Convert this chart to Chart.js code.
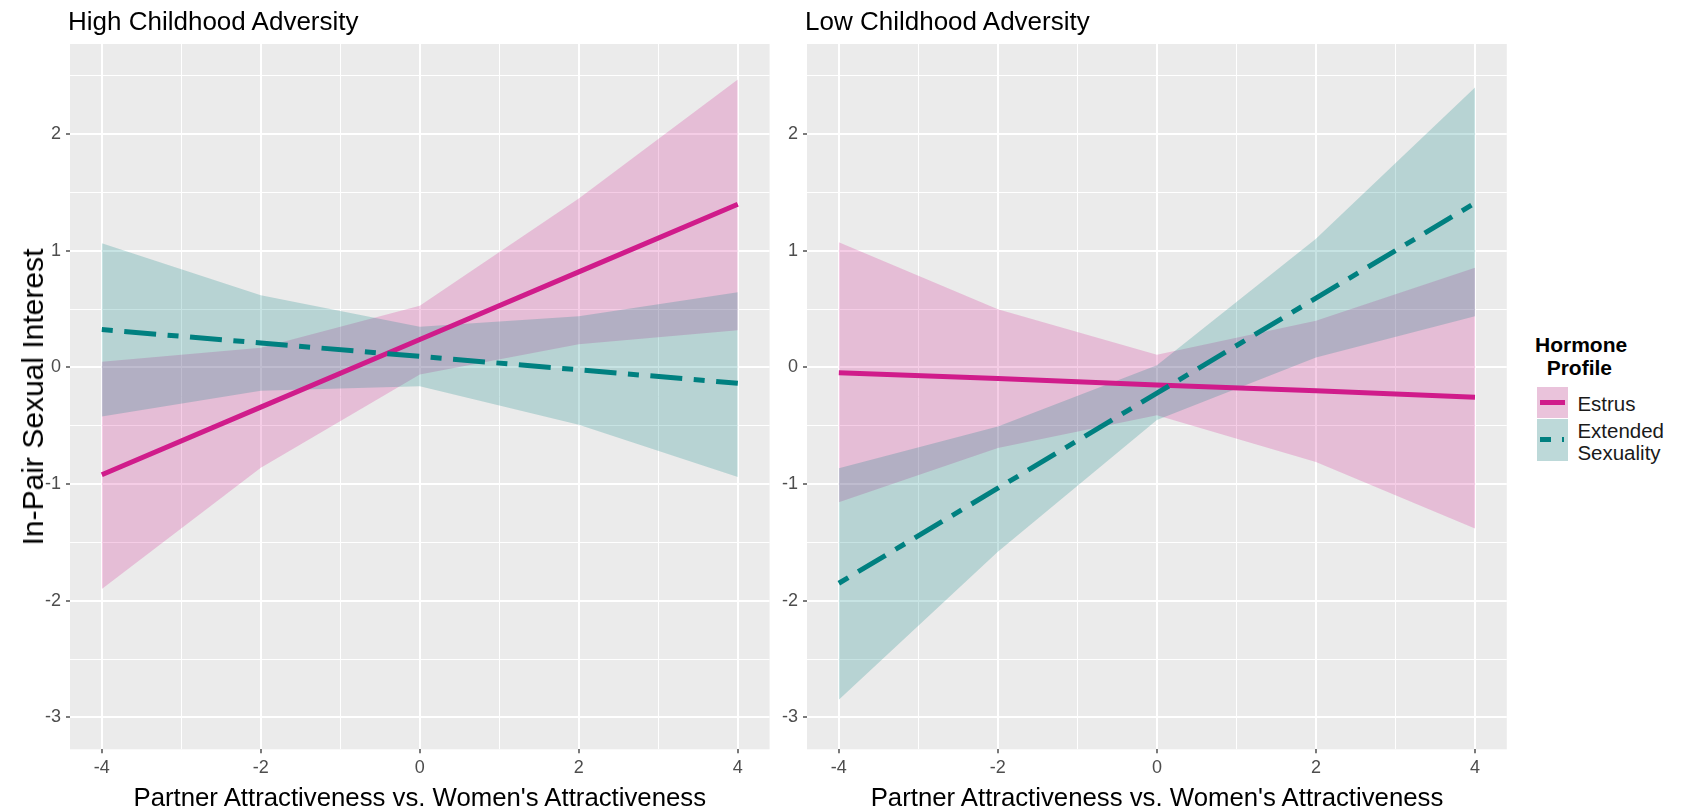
<!DOCTYPE html>
<html>
<head>
<meta charset="utf-8">
<title>In-Pair Sexual Interest by Hormone Profile</title>
<script src="https://cdn.jsdelivr.net/npm/chart.js@4.4.1/dist/chart.umd.min.js"></script>
<style>
  html, body { margin: 0; padding: 0; background: #ffffff; overflow: hidden; width: 1681px; height: 809px; }
  body { position: relative; font-family: "Liberation Sans", Arial, sans-serif; color: #000; }
  canvas { position: absolute; top: 0; }
  .txt { position: absolute; white-space: nowrap; }
  .panel-title { font-size: 26px; line-height: 26px; }
  .x-title { font-size: 25.75px; line-height: 25.75px; width: 800px; text-align: center; }
  .y-title { font-size: 30px; line-height: 30px; transform: translate(-50%, -50%) rotate(-90deg); }
  .legend-title { font-size: 21px; line-height: 21px; font-weight: bold; }
  .legend-label { font-size: 20.5px; line-height: 20.5px; color: #1a1a1a; }
  .key { position: absolute; }
  .key-mark { position: absolute; }
</style>
</head>
<body>
<canvas id="highPanel" width="772" height="809" style="left:0px"></canvas>
<canvas id="lowPanel" width="750" height="809" style="left:770px"></canvas>

<div class="txt panel-title" style="left:68px; top:8px;">High Childhood Adversity</div>
<div class="txt panel-title" style="left:805px; top:8px;">Low Childhood Adversity</div>

<div class="txt x-title" style="left:19.8px; top:785.2px;">Partner Attractiveness vs. Women's Attractiveness</div>
<div class="txt x-title" style="left:757px; top:785.2px;">Partner Attractiveness vs. Women's Attractiveness</div>

<div class="txt y-title" style="left:33px; top:396.6px;">In-Pair Sexual Interest</div>

<!-- legend -->
<div class="txt legend-title" style="left:1535px; top:333.9px;">Hormone</div>
<div class="txt legend-title" style="left:1546.7px; top:357.2px;">Profile</div>

<div class="key" style="left:1536.7px; top:386.7px; width:31.6px; height:31.6px; background:#EAC3DB;"></div>
<div class="key-mark" style="left:1540px; top:399.5px; width:25px; height:5px; background:#D01C8B;"></div>

<div class="key" style="left:1536.7px; top:419.3px; width:31.6px; height:41.4px; background:#BDD9D9;"></div>
<div class="key-mark" style="left:1540px; top:437px; width:11px; height:5px; background:#008080;"></div>
<div class="key-mark" style="left:1561.7px; top:437px; width:2.5px; height:5px; background:#008080;"></div>

<div class="txt legend-label" style="left:1577.4px; top:394.3px;">Estrus</div>
<div class="txt legend-label" style="left:1577.4px; top:420.6px;">Extended</div>
<div class="txt legend-label" style="left:1577.4px; top:442.6px;">Sexuality</div>

<script>
// Partner attractiveness relative to the woman's own attractiveness
const xValues = [-4, -2, 0, 2, 4];

// High childhood adversity: fitted in-pair sexual interest and confidence band
const highEstrusFit     = [-0.92, -0.34, 0.24, 0.82, 1.40];
const highEstrusLower   = [-1.90, -0.86, -0.06, 0.20, 0.32];
const highEstrusUpper   = [0.05, 0.17, 0.53, 1.45, 2.47];
const highExtendedFit   = [0.325, 0.21, 0.095, -0.02, -0.135];
const highExtendedLower = [-0.42, -0.20, -0.16, -0.49, -0.94];
const highExtendedUpper = [1.065, 0.62, 0.35, 0.44, 0.645];

// Low childhood adversity
const lowEstrusFit     = [-0.045, -0.095, -0.15, -0.20, -0.255];
const lowEstrusLower   = [-1.155, -0.69, -0.41, -0.81, -1.38];
const lowEstrusUpper   = [1.075, 0.50, 0.11, 0.40, 0.855];
const lowExtendedFit   = [-1.85, -1.035, -0.22, 0.595, 1.41];
const lowExtendedLower = [-2.85, -1.58, -0.45, 0.085, 0.44];
const lowExtendedUpper = [-0.865, -0.505, 0.02, 1.105, 2.40];

// Axis ticks and grid positions
const xTickLabels = [-4, -2, 0, 2, 4];
const xGridValues = [-4, -3, -2, -1, 0, 1, 2, 3, 4];
const yTickLabels = [-3, -2, -1, 0, 1, 2];
const yGridValues = [-3, -2.5, -2, -1.5, -1, -0.5, 0, 0.5, 1, 1.5, 2, 2.5];

const xLimits = [-4.4, 4.4];
const yLimits = [-3.274, 2.774];

const ESTRUS = '#D01C8B';
const EXTENDED = '#008080';
const ESTRUS_FILL = 'rgba(208, 28, 139, 0.22)';
const EXTENDED_FILL = 'rgba(0, 128, 128, 0.22)';

const points = (ys) => xValues.map((x, i) => ({ x: x, y: ys[i] }));

const panelBackground = {
  id: 'panelBackground',
  beforeDraw(chart) {
    const { ctx, chartArea: a } = chart;
    ctx.save();
    ctx.fillStyle = '#EBEBEB';
    ctx.fillRect(a.left, a.top, a.right - a.left, a.bottom - a.top);
    ctx.restore();
  }
};

function makePanel(canvasId, s, yAxisWidth, rightPad) {
  const ribbon = (ys, fillColor, fill, order) => ({
    data: points(ys),
    borderColor: 'transparent',
    borderWidth: 0,
    backgroundColor: fillColor,
    fill: fill,
    pointRadius: 0,
    tension: 0,
    order: order
  });
  const fitLine = (ys, color, dash, order) => ({
    data: points(ys),
    borderColor: color,
    borderWidth: 5,
    borderDash: dash,
    borderCapStyle: 'butt',
    fill: false,
    pointRadius: 0,
    tension: 0,
    order: order
  });

  const isYMajor = (v) => yTickLabels.includes(v);
  const isXMajor = (v) => xTickLabels.includes(v);

  return new Chart(document.getElementById(canvasId), {
    type: 'line',
    data: {
      datasets: [
        ribbon(s.estrusUpper, ESTRUS_FILL, '+1', 3),
        ribbon(s.estrusLower, ESTRUS_FILL, false, 3),
        ribbon(s.extendedUpper, EXTENDED_FILL, '+1', 2),
        ribbon(s.extendedLower, EXTENDED_FILL, false, 2),
        fitLine(s.estrusFit, ESTRUS, [], 1),
        fitLine(s.extendedFit, EXTENDED, [11, 11.5, 32, 11.5], 0)
      ]
    },
    options: {
      responsive: false,
      animation: false,
      events: [],
      layout: { autoPadding: false, padding: { top: 44, left: 0, right: rightPad, bottom: 0 } },
      plugins: { legend: { display: false }, tooltip: { enabled: false }, title: { display: false } },
      scales: {
        x: {
          type: 'linear',
          min: xLimits[0],
          max: xLimits[1],
          afterBuildTicks: (axis) => { axis.ticks = xGridValues.map(v => ({ value: v })); },
          afterFit: (axis) => { axis.height = 59.7; },
          border: { display: false },
          grid: {
            color: '#FFFFFF',
            lineWidth: (c) => (c.tick && isXMajor(c.tick.value) ? 2 : 1),
            drawTicks: true,
            tickLength: 4,
            tickWidth: 1.3,
            tickColor: (c) => (c.tick && isXMajor(c.tick.value) ? '#333333' : 'rgba(0,0,0,0)')
          },
          ticks: {
            autoSkip: false,
            maxRotation: 0,
            padding: 4,
            color: '#4D4D4D',
            font: { family: 'Liberation Sans', size: 18 },
            callback: (v) => (isXMajor(v) ? String(v) : '')
          }
        },
        y: {
          type: 'linear',
          min: yLimits[0],
          max: yLimits[1],
          afterBuildTicks: (axis) => { axis.ticks = yGridValues.map(v => ({ value: v })); },
          afterFit: (axis) => { axis.width = yAxisWidth; },
          border: { display: false },
          grid: {
            color: '#FFFFFF',
            lineWidth: (c) => (c.tick && isYMajor(c.tick.value) ? 2 : 1),
            drawTicks: true,
            tickLength: 4,
            tickWidth: 1.3,
            tickColor: (c) => (c.tick && isYMajor(c.tick.value) ? '#333333' : 'rgba(0,0,0,0)')
          },
          ticks: {
            autoSkip: false,
            padding: 5,
            color: '#4D4D4D',
            font: { family: 'Liberation Sans', size: 18 },
            callback: (v) => (isYMajor(v) ? String(v) : '')
          }
        }
      }
    },
    plugins: [panelBackground]
  });
}

makePanel('highPanel', {
  estrusFit: highEstrusFit, estrusLower: highEstrusLower, estrusUpper: highEstrusUpper,
  extendedFit: highExtendedFit, extendedLower: highExtendedLower, extendedUpper: highExtendedUpper
}, 70, 2.4);

makePanel('lowPanel', {
  estrusFit: lowEstrusFit, estrusLower: lowEstrusLower, estrusUpper: lowEstrusUpper,
  extendedFit: lowExtendedFit, extendedLower: lowExtendedLower, extendedUpper: lowExtendedUpper
}, 37, 13.2);
</script>
</body>
</html>
